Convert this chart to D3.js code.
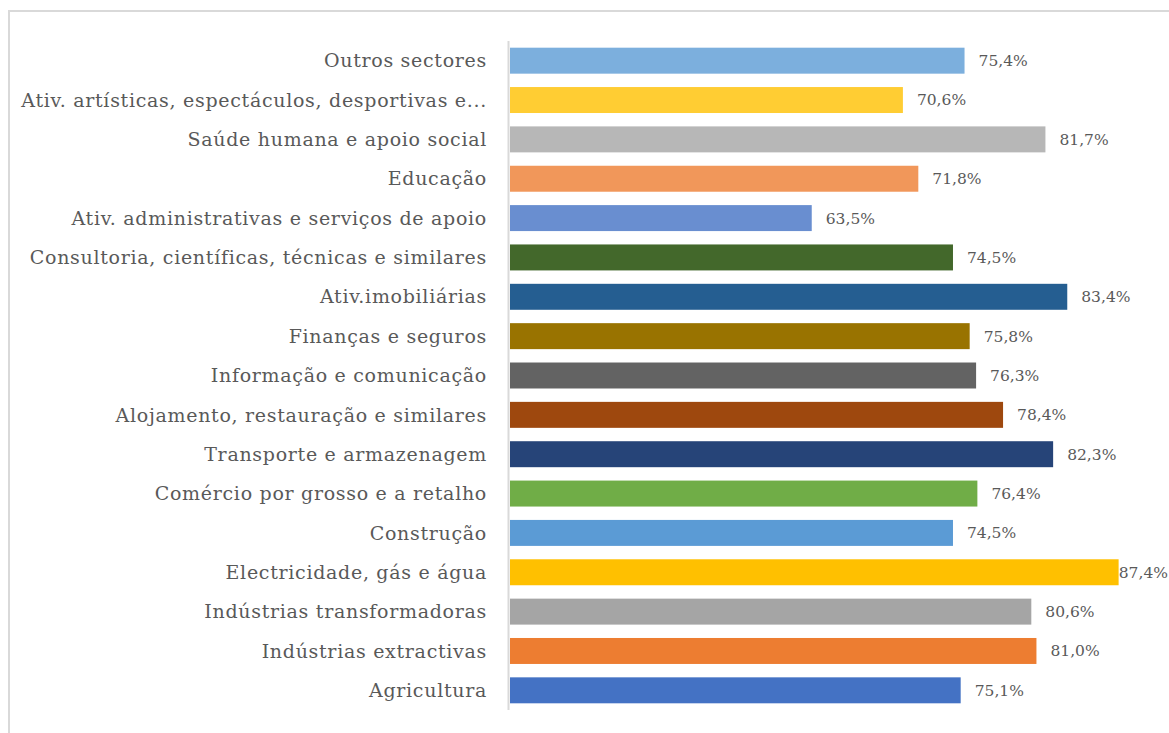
<!DOCTYPE html>
<html>
<head>
<meta charset="utf-8">
<script src="https://cdn.jsdelivr.net/npm/d3@7"></script>
<style>
  html, body { margin: 0; padding: 0; background: #fff; }
  svg { display: block; }
</style>
</head>
<body>
<svg id="chart" width="1169" height="733"></svg>
<script>
const categories = [
  "Outros sectores",
  "Ativ. artísticas, espectáculos, desportivas e...",
  "Saúde humana e apoio social",
  "Educação",
  "Ativ. administrativas e  serviços de apoio",
  "Consultoria, científicas, técnicas e similares",
  "Ativ.imobiliárias",
  "Finanças e seguros",
  "Informação e comunicação",
  "Alojamento, restauração e similares",
  "Transporte e armazenagem",
  "Comércio por grosso e a retalho",
  "Construção",
  "Electricidade, gás e água",
  "Indústrias transformadoras",
  "Indústrias extractivas",
  "Agricultura"
];
const values = [75.4, 70.6, 81.7, 71.8, 63.5, 74.5, 83.4, 75.8, 76.3, 78.4, 82.3, 76.4, 74.5, 87.4, 80.6, 81.0, 75.1];
const valueLabels = ["75,4%", "70,6%", "81,7%", "71,8%", "63,5%", "74,5%", "83,4%", "75,8%", "76,3%", "78,4%", "82,3%", "76,4%", "74,5%", "87,4%", "80,6%", "81,0%", "75,1%"];
const colors = ["#7CAFDD", "#FFCD33", "#B7B7B7", "#F1975A", "#698ED0", "#43682B", "#255E91", "#997300", "#636363", "#9E480E", "#264478", "#70AD47", "#5B9BD5", "#FFC000", "#A5A5A5", "#ED7D31", "#4472C4"];

const svg = d3.select("#chart");
const fontFam = "Georgia, 'DejaVu Serif', 'Liberation Serif', serif";
const W = 1169;

// outer border
svg.append("rect")
  .attr("x", 9).attr("y", 11)
  .attr("width", 1180).attr("height", 740)
  .attr("fill", "none").attr("stroke", "#d9d9d9").attr("stroke-width", 2);

const x = d3.scaleLinear().domain([40, 90]).range([510, 1152]);
const y = d3.scaleBand().domain(categories).range([41, 710]).paddingInner(0.34).paddingOuter(0.17);

const data = categories.map((c, i) => ({ c, v: values[i], l: valueLabels[i], col: colors[i] }));

svg.selectAll("rect.bar").data(data).enter().append("rect")
  .attr("class", "bar")
  .attr("x", x(40))
  .attr("y", d => y(d.c))
  .attr("width", d => x(d.v) - x(40))
  .attr("height", y.bandwidth())
  .attr("fill", d => d.col);

// axis line
svg.append("line")
  .attr("x1", 508.5).attr("x2", 508.5)
  .attr("y1", 41).attr("y2", 710)
  .attr("stroke", "#d9d9d9").attr("stroke-width", 2);

// category labels
svg.selectAll("text.cat").data(data).enter().append("text")
  .attr("class", "cat")
  .attr("x", 487)
  .attr("y", d => y(d.c) + y.bandwidth() / 2)
  .attr("dy", "0.35em")
  .attr("text-anchor", "end")
  .attr("font-family", fontFam)
  .attr("font-size", 19)
  .attr("letter-spacing", 0.7)
  .attr("fill", "#595959")
  .text(d => d.c);

// value labels
const vals = svg.selectAll("text.val").data(data).enter().append("text")
  .attr("class", "val")
  .attr("y", d => y(d.c) + y.bandwidth() / 2)
  .attr("dy", "0.35em")
  .attr("font-family", fontFam)
  .attr("font-size", 15.5)
  .attr("fill", "#595959")
  .text(d => d.l);
vals.each(function(d) {
  const w = this.getComputedTextLength();
  let px = x(d.v) + 14;
  if (px + w > W - 1) px = W - w - 1;
  d3.select(this).attr("x", px);
});
</script>
</body>
</html>
